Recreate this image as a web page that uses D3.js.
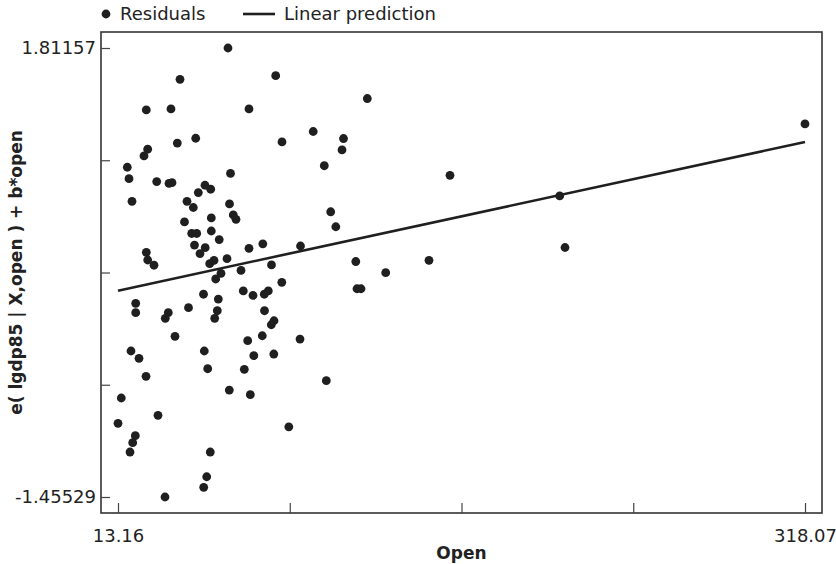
<!DOCTYPE html>
<html>
<head>
<meta charset="utf-8">
<script src="https://cdn.jsdelivr.net/npm/d3@7"></script>
<style>
  html, body { margin: 0; padding: 0; background: #fff; }
  svg text { font-family: "DejaVu Sans", sans-serif; fill: #222; }
</style>
</head>
<body>
<svg id="chart" width="836" height="564"></svg>
<script>
// ---- data ----
const openVals = [
  61.98, 83.15, 40.68, 25.72, 36.68, 71.30, 47.65, 39.48, 85.95, 26.34,
  24.70, 17.29, 18.04, 30.34, 35.80, 37.13, 63.09, 51.77, 54.30, 48.80,
  19.37, 43.78, 46.58, 62.65, 64.33, 65.53, 54.57, 42.67, 45.87, 48.09,
  54.57, 58.08, 47.11, 51.86, 49.55, 25.72, 26.34, 29.14, 71.30, 77.43,
  94.16, 53.86, 55.77, 61.54, 67.75, 81.29, 123.81, 99.80, 113.24, 112.58,
  104.72, 107.56, 109.83, 118.70, 160.51, 131.97, 151.19, 119.23, 121.01, 209.20,
  211.55, 318.07, 58.87, 56.52, 85.86, 51.11, 68.77, 73.08, 78.09, 79.87,
  57.68, 21.02, 21.02, 34.15, 35.48, 44.45, 57.23, 56.08, 78.18, 81.20,
  82.40, 38.46, 70.72, 77.20, 93.94, 18.93, 22.48, 51.46, 52.97, 73.43,
  82.31, 69.22, 25.59, 62.56, 71.88, 14.62, 30.91, 13.16, 20.84, 19.68,
  18.49, 88.97, 105.61, 54.12, 52.53, 51.20, 34.02
];
const residVals = [
  1.81157, 1.610, 1.584, 1.361, 1.368, 1.368, 1.155, 1.120, 1.128, 1.075,
  1.026, 0.944, 0.861, 0.840, 0.826, 0.832, 0.899, 0.813, 0.784, 0.760,
  0.696, 0.696, 0.651, 0.677, 0.597, 0.565, 0.575, 0.546, 0.462, 0.462,
  0.480, 0.418, 0.378, 0.359, 0.316, 0.325, 0.269, 0.231, 0.354, 0.387,
  0.371, 0.242, 0.266, 0.279, 0.193, 0.233, 1.444, 1.204, 1.153, 1.070,
  0.955, 0.620, 0.511, 0.258, 0.885, 0.177, 0.267, 0.060, 0.060, 0.735,
  0.360, 1.259, 0.172, 0.131, 0.107, 0.020, 0.044, 0.011, 0.020, 0.044,
  -0.015, -0.046, -0.114, -0.155, -0.114, -0.078, -0.100, -0.155, -0.100, -0.202,
  -0.173, -0.286, -0.318, -0.282, -0.306, -0.393, -0.446, -0.393, -0.522, -0.427,
  -0.415, -0.526, -0.577, -0.677, -0.711, -0.735, -0.861, -0.919, -1.009, -1.060,
  -1.128, -0.945, -0.609, -1.128, -1.308, -1.385, -1.45529
];
const predOpen = [13.16, 318.07];
const predFit  = [0.046, 1.128];

const xDomain = [13.16, 318.07];
const yDomain = [-1.45529, 1.81157];
const xTickLabels = ["13.16", "", "", "", "318.07"];
const yTickLabels = ["-1.45529", "", "", "", "1.81157"];
const legendLabels = ["Residuals", "Linear prediction"];
const xTitle = "Open";
const yTitle = "e( lgdp85 | X,open ) + b*open";

// ---- layout ----
const frame = { left: 101, top: 32, right: 822, bottom: 513 };
const ink = "#1f1f1f";

const svg = d3.select("#chart");

const x = d3.scaleLinear().domain(xDomain).range([118, 805]);
const y = d3.scaleLinear().domain(yDomain).range([497, 48]);

const xTicks = d3.range(5).map(i => xDomain[0] + i * (xDomain[1] - xDomain[0]) / 4);
const yTicks = d3.range(5).map(i => yDomain[0] + i * (yDomain[1] - yDomain[0]) / 4);

// frame
svg.append("rect")
  .attr("x", frame.left).attr("y", frame.top)
  .attr("width", frame.right - frame.left)
  .attr("height", frame.bottom - frame.top)
  .attr("fill", "none").attr("stroke", "#333").attr("stroke-width", 1.6);

// y axis
const yAxis = d3.axisLeft(y)
  .tickValues(yTicks)
  .tickSizeInner(-9).tickSizeOuter(0)
  .tickPadding(5)
  .tickFormat((d, i) => yTickLabels[i]);
const gy = svg.append("g").attr("transform", `translate(${frame.left},0)`).call(yAxis);
gy.select(".domain").remove();
gy.selectAll(".tick line").attr("stroke", "#444").attr("stroke-width", 1.2);
gy.selectAll(".tick text").style("font-size", "18px").attr("fill", "#222");

// x axis
const xAxis = d3.axisBottom(x)
  .tickValues(xTicks)
  .tickSizeInner(-10).tickSizeOuter(0)
  .tickPadding(16)
  .tickFormat((d, i) => xTickLabels[i]);
const gx = svg.append("g").attr("transform", `translate(0,${frame.bottom})`).call(xAxis);
gx.select(".domain").remove();
gx.selectAll(".tick line").attr("stroke", "#444").attr("stroke-width", 1.2);
gx.selectAll(".tick text").style("font-size", "18px").attr("fill", "#222");

// axis titles
svg.append("text")
  .attr("x", (frame.left + frame.right) / 2).attr("y", 559)
  .attr("text-anchor", "middle")
  .style("font-size", "17px").style("font-weight", "bold")
  .text(xTitle);

svg.append("text")
  .attr("transform", `translate(22,${(frame.top + frame.bottom) / 2}) rotate(-90)`)
  .attr("text-anchor", "middle")
  .style("font-size", "17px").style("font-weight", "bold")
  .text(yTitle);

// points
const pts = openVals.map((v, i) => ({ x: v, y: residVals[i] }));
svg.append("g").selectAll("circle").data(pts).join("circle")
  .attr("cx", d => x(d.x)).attr("cy", d => y(d.y))
  .attr("r", 4.4).attr("fill", ink);

// linear prediction
const line = d3.line().x(d => x(d[0])).y(d => y(d[1]));
svg.append("path")
  .datum(predOpen.map((v, i) => [v, predFit[i]]))
  .attr("d", line)
  .attr("fill", "none").attr("stroke", ink).attr("stroke-width", 2.6);

// legend
const lg = svg.append("g");
lg.append("circle").attr("cx", 106).attr("cy", 14).attr("r", 4.4).attr("fill", ink);
lg.append("text").attr("x", 120).attr("y", 14).attr("dy", "0.35em")
  .style("font-size", "18px").text(legendLabels[0]);
lg.append("line").attr("x1", 243).attr("x2", 275).attr("y1", 14).attr("y2", 14)
  .attr("stroke", ink).attr("stroke-width", 2.6);
lg.append("text").attr("x", 284).attr("y", 14).attr("dy", "0.35em")
  .style("font-size", "18px").text(legendLabels[1]);
</script>
</body>
</html>
